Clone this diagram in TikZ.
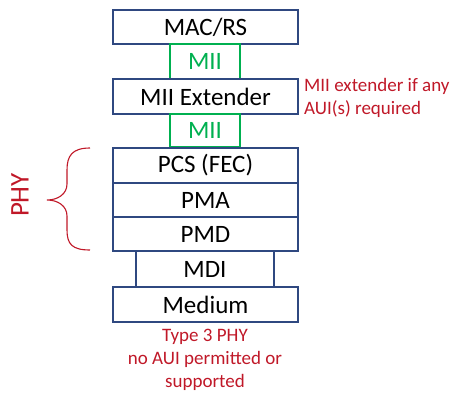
\documentclass[tikz,border=0pt]{standalone}
\usepackage{fontspec}
\setmainfont{Carlito}
\definecolor{boxblue}{RGB}{47,72,128}
\definecolor{miigreen}{RGB}{0,176,80}
\definecolor{notered}{RGB}{192,24,40}
\begin{document}
\begin{tikzpicture}[x=1pt,y=-1pt,
  layer/.style={draw=boxblue,line width=1.6pt,inner sep=0pt,font=\fontsize{25}{27}\selectfont},
  mii/.style={draw=miigreen,line width=1.6pt,inner sep=0pt,text=miigreen,font=\fontsize{25}{27}\selectfont},
  note/.style={text=notered,font=\fontsize{19}{23}\selectfont,inner sep=0pt}]
\useasboundingbox (0,0) rectangle (452,393);
% layer stack
\node[layer,minimum width=185pt,minimum height=34pt] (mac) at (205.5,27) {MAC/RS};
\node[mii,minimum width=70pt,minimum height=35pt] (mii1) at (205,61.5) {MII};
\node[layer,minimum width=185pt,minimum height=35pt] (ext) at (205.5,96.5) {MII Extender};
\node[mii,minimum width=70pt,minimum height=33pt] (mii2) at (205,130.5) {MII};
\node[layer,minimum width=185pt,minimum height=35pt] (pcs) at (205.5,165.5) {PCS (FEC)};
\node[layer,minimum width=185pt,minimum height=34pt] (pma) at (205.5,200) {PMA};
\node[layer,minimum width=185pt,minimum height=34pt] (pmd) at (205.5,234) {PMD};
\node[layer,minimum width=138pt,minimum height=36pt] (mdi) at (205,269) {MDI};
\node[layer,minimum width=185pt,minimum height=35pt] (med) at (205.5,304.5) {Medium};
% annotations
\node[note,anchor=west,align=left] (extnote) at (304,97.5) {MII extender if any\\AUI(s) required};
\node[note,align=center] (typenote) at (205,360) {Type 3 PHY\\no AUI permitted or\\supported};
% PHY brace
\draw[notered,line width=1.1pt] (90,148) .. controls (72,148) and (67,156) .. (67,170)
  -- (67,184) .. controls (67,194) and (58,200) .. (47,200)
  .. controls (58,200) and (67,206) .. (67,216)
  -- (67,230) .. controls (67,244) and (72,250) .. (90,250);
\node[text=notered,font=\fontsize{27}{29}\selectfont,rotate=90,inner sep=0pt] (phy) at (20,195) {PHY};
\end{tikzpicture}
\end{document}
